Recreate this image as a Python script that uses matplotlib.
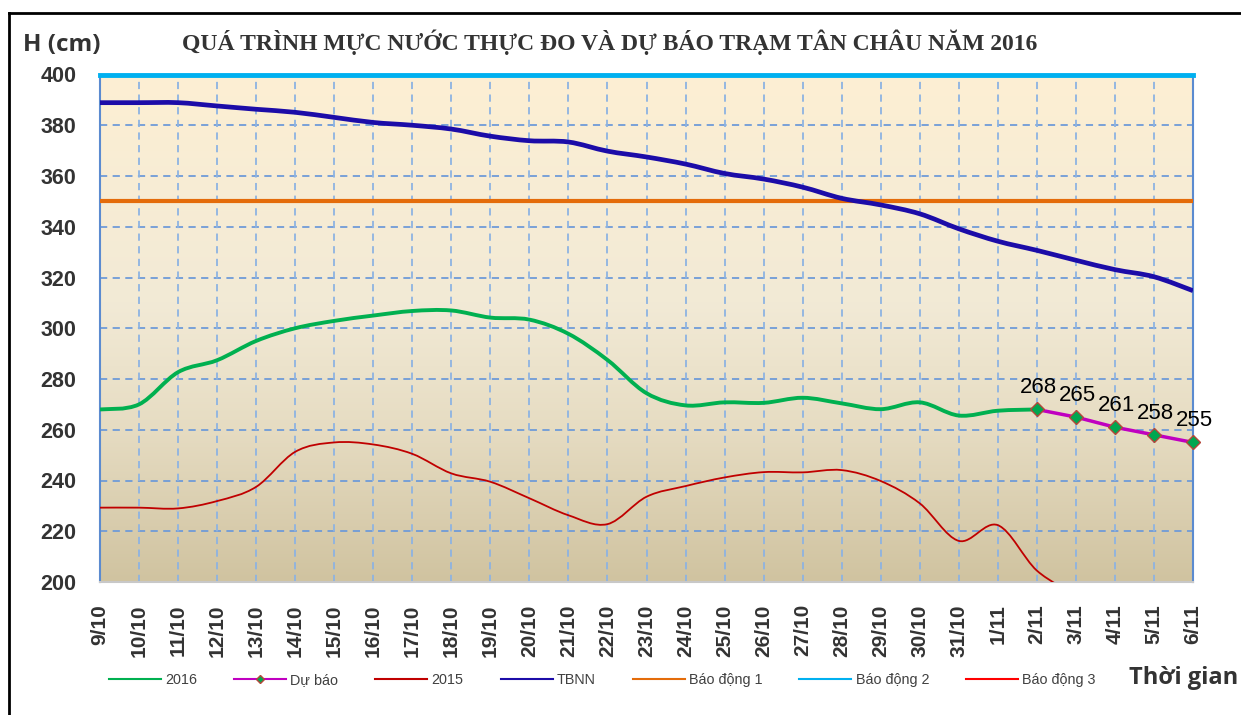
import numpy as np
import matplotlib
matplotlib.use("Agg")
import matplotlib.pyplot as plt
from matplotlib.path import Path
from matplotlib.patches import PathPatch
from matplotlib.lines import Line2D
from matplotlib.colors import LinearSegmentedColormap

dates = ["9/10", "10/10", "11/10", "12/10", "13/10", "14/10", "15/10", "16/10", "17/10",
         "18/10", "19/10", "20/10", "21/10", "22/10", "23/10", "24/10", "25/10", "26/10",
         "27/10", "28/10", "29/10", "30/10", "31/10", "1/11", "2/11", "3/11", "4/11",
         "5/11", "6/11"]

h2016 = [268, 270, 282.7, 287.4, 295, 300, 302.9, 305, 306.8, 307, 304.2, 303.4, 297.8,
         287.5, 274.4, 269.6, 270.8, 270.6, 272.6, 270.4, 268.1, 270.8, 265.6, 267.5, 268]
forecast = [268, 265, 261, 258, 255]
h2015 = [229.3, 229.3, 229, 231.9, 237.5, 251.3, 255, 254.2, 250.5, 242.8, 239.5, 233,
         226.3, 222.8, 233.6, 237.8, 241.2, 243.3, 243.2, 244.1, 239.8, 231, 216.2, 222.4,
         204.5, 195]
tbnn = [388.9, 388.9, 388.9, 387.6, 386.3, 385.1, 383.1, 381.1, 380, 378.5, 375.7, 373.9,
        373.4, 369.8, 367.5, 364.7, 361, 358.8, 355.6, 351.2, 348.6, 345.1, 339.2, 334.3,
        330.7, 326.8, 323.1, 320.3, 314.8]
bao_dong_1 = 350
bao_dong_2 = 400
bao_dong_3 = 450

yticks = list(range(200, 401, 20))


def smooth(x, y):
    # Catmull-Rom segments as cubic bezier, like Excel's smoothed line
    pts = np.column_stack([x, y]).astype(float)
    n = len(pts)
    verts = [pts[0]]
    codes = [Path.MOVETO]
    for i in range(n - 1):
        p0 = pts[i - 1] if i > 0 else pts[i]
        p1, p2 = pts[i], pts[i + 1]
        p3 = pts[i + 2] if i + 2 < n else pts[i + 1]
        verts += [p1 + (p2 - p0) / 6, p2 - (p3 - p1) / 6, p2]
        codes += [Path.CURVE4] * 3
    return Path(verts, codes)


fig = plt.figure(figsize=(12.41, 7.15), dpi=100)
ax = fig.add_axes([100 / 1241, 1 - 582 / 715, 1093 / 1241, 507.5 / 715])

x = np.arange(len(dates))
ax.set_xlim(0, len(dates) - 1)
ax.set_ylim(200, 400)

# background gradient
cmap = LinearSegmentedColormap.from_list(
    "bg", [(0, "#d0c3a0"), (0.3, "#e6dcc2"), (0.55, "#f2ead6"), (1, "#fdefd3")])
grad = np.linspace(0, 1, 256).reshape(-1, 1)
ax.imshow(grad, cmap=cmap, origin="lower", aspect="auto",
          extent=(0, len(dates) - 1, 200, 400), zorder=0)

for yv in yticks[1:-1]:
    ax.axhline(yv, color="#6f9bd8", lw=1.3, dashes=(4, 3), zorder=1)
for xv in x[1:-1]:
    ax.axvline(xv, color="#8db3e2", lw=1.3, dashes=(4, 3), zorder=1)

ax.axhline(bao_dong_1, color="#e46c0a", lw=3, zorder=3)
ax.axhline(bao_dong_2, color="#00b0f0", lw=3.5, zorder=3, clip_on=False)
ax.axhline(bao_dong_3, color="#ff0000", lw=1.5, zorder=3)

ax.add_patch(PathPatch(smooth(x[:len(tbnn)], tbnn), fill=False, ec="#1c0ca8", lw=3.4, zorder=4))
ax.add_patch(PathPatch(smooth(x[:len(h2015)], h2015), fill=False, ec="#c00000", lw=1.3, zorder=4))
ax.add_patch(PathPatch(smooth(x[:len(h2016)], h2016), fill=False, ec="#00b050", lw=2.8, zorder=4))

xf = x[len(h2016) - 1:len(h2016) - 1 + len(forecast)]
ax.plot(xf, forecast, color="#c000c0", lw=2.5, marker="D", ms=7, mfc="#00a650",
        mec="#b5473a", mew=1, zorder=5, clip_on=False)
for xi, v in zip(xf, forecast):
    ax.annotate(str(v), (xi, v), xytext=(1, 8), textcoords="offset points",
                ha="center", va="bottom", fontsize=16, family="Liberation Sans",
                color="black", zorder=6)

ax.set_xticks(x)
ax.set_xticklabels(dates, rotation=90, fontsize=15, fontweight="bold",
                   family="Liberation Sans", color="#333333")
ax.set_yticks(yticks)
ax.set_yticklabels([str(v) for v in yticks], fontsize=15.5, fontweight="bold",
                   family="Liberation Sans", color="#333333")
ax.tick_params(axis="x", length=0, pad=16)
ax.tick_params(axis="y", length=0, pad=17)
for s in ["left", "right"]:
    ax.spines[s].set_color("#5b8bd0")
    ax.spines[s].set_linewidth(1.5)
ax.spines["bottom"].set_color("#c8c8c8")
ax.spines["bottom"].set_linewidth(1.5)
ax.spines["top"].set_visible(False)

fig.text(610 / 1241, 1 - 42 / 715,
         "QUÁ TRÌNH MỰC NƯỚC THỰC ĐO VÀ DỰ BÁO TRẠM TÂN CHÂU NĂM 2016",
         ha="center", va="center", fontsize=17, fontweight="bold",
         family="Liberation Serif", color="#333333")
fig.text(23 / 1241, 1 - 45 / 715, "H (cm)", ha="left", va="center", fontsize=17.5,
         fontweight="bold", family="Open Sans", color="#333333")
fig.text(1238 / 1241, 1 - 678 / 715, "Thời gian", ha="right", va="center", fontsize=17,
         fontweight="bold", family="Open Sans", color="#333333")

handles = [
    Line2D([], [], color="#00b050", lw=1.5),
    Line2D([], [], color="#c000c0", lw=1.5, marker="D", ms=4, mfc="#00a650", mec="#b5473a"),
    Line2D([], [], color="#c00000", lw=1.5),
    Line2D([], [], color="#1c0ca8", lw=1.5),
    Line2D([], [], color="#e46c0a", lw=1.5),
    Line2D([], [], color="#00b0f0", lw=1.5),
    Line2D([], [], color="#ff0000", lw=1.5),
]
labels = ["2016", "Dự báo", "2015", "TBNN", "Báo động 1", "Báo động 2", "Báo động 3"]
fig.legend(handles, labels, loc="center left", bbox_to_anchor=(96 / 1241, 1 - 680 / 715),
           ncol=7, frameon=False, handlelength=3.6, handletextpad=0.3,
           columnspacing=2.55, labelcolor="#404040",
           prop={"family": "Liberation Sans", "size": 10.4})

# outer frame (partially visible)
fig.add_artist(Line2D([9 / 1241, 9 / 1241], [0, 1 - 13 / 715], color="black", lw=2))
fig.add_artist(Line2D([9 / 1241, 1], [1 - 13 / 715, 1 - 13 / 715], color="black", lw=2))

fig.savefig("out.png", dpi=100)
